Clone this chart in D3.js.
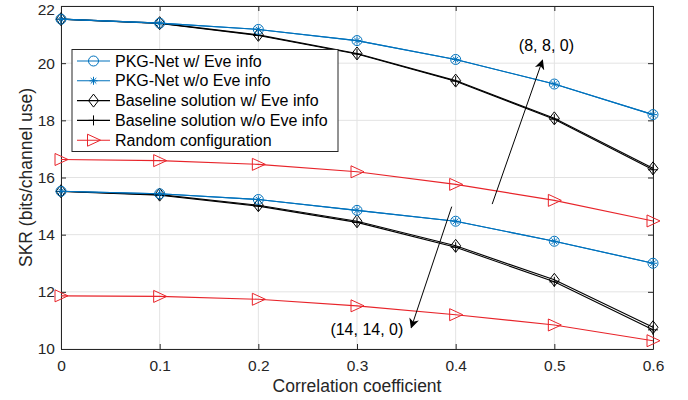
<!DOCTYPE html>
<html><head><meta charset="utf-8">
<script src="https://cdn.jsdelivr.net/npm/d3@7"></script>
<style>body{margin:0;background:#fff}svg{display:block}text{font-family:"Liberation Sans",Arial,Helvetica,sans-serif}</style>
</head><body><svg id="c" width="688" height="400"></svg>
<script>
const xVals = [0, 0.1, 0.2, 0.3, 0.4, 0.5, 0.6];
const xTicks = [0, 0.1, 0.2, 0.3, 0.4, 0.5, 0.6];
const yTicks = [10, 12, 14, 16, 18, 20, 22];
// (8,8,0) group
const pkgWith8 = [21.54, 21.40, 21.18, 20.79, 20.13, 19.27, 18.20];
const pkgWithout8 = [21.54, 21.40, 21.18, 20.79, 20.13, 19.27, 18.20];
const baseWith8 = [21.54, 21.40, 20.99, 20.34, 19.39, 18.07, 16.32];
const baseWithout8 = [21.54, 21.39, 20.97, 20.32, 19.37, 18.04, 16.27];
const rand8 = [16.63, 16.59, 16.46, 16.20, 15.76, 15.20, 14.48];
// (14,14,0) group
const pkgWith14 = [15.52, 15.43, 15.23, 14.85, 14.47, 13.77, 13.00];
const pkgWithout14 = [15.52, 15.43, 15.23, 14.85, 14.47, 13.77, 13.00];
const baseWith14 = [15.52, 15.40, 15.03, 14.47, 13.61, 12.42, 10.76];
const baseWithout14 = [15.51, 15.38, 15.00, 14.43, 13.56, 12.35, 10.67];
const rand14 = [11.86, 11.84, 11.74, 11.51, 11.20, 10.84, 10.29];
const legendLabels = ["PKG-Net w/ Eve info", "PKG-Net w/o Eve info", "Baseline solution w/ Eve info", "Baseline solution w/o Eve info", "Random configuration"];
const annotations = ["(8, 8, 0)", "(14, 14, 0)"];

const BLUE = "#0072BD", RED = "#e8242a", BLACK = "#000";
const svg = d3.select("#c");
const L = 61, R = 653, T = 6, B = 349;
const x = d3.scaleLinear().domain([0, 0.6]).range([L, R]);
const y = d3.scaleLinear().domain([10, 22]).range([B, T]);

// grid
const g = svg.append("g");
g.selectAll(".gx").data(xTicks).enter().append("line")
  .attr("x1", d => x(d)).attr("x2", d => x(d)).attr("y1", T).attr("y2", B)
  .attr("stroke", "#e3e3e3").attr("stroke-width", 1);
g.selectAll(".gy").data(yTicks).enter().append("line")
  .attr("y1", d => y(d)).attr("y2", d => y(d)).attr("x1", L).attr("x2", R)
  .attr("stroke", "#e3e3e3").attr("stroke-width", 1);

// axes
const axB = d3.axisBottom(x).tickValues(xTicks).tickSizeInner(-5).tickSizeOuter(0).tickPadding(11).tickFormat(d => d === 0 ? "0" : d3.format(".1f")(d));
const axL = d3.axisLeft(y).tickValues(yTicks).tickSizeInner(-5).tickSizeOuter(0).tickPadding(6);
const axT = d3.axisTop(x).tickValues(xTicks).tickSizeInner(-5).tickSizeOuter(0).tickFormat("");
const axR = d3.axisRight(y).tickValues(yTicks).tickSizeInner(-5).tickSizeOuter(0).tickFormat("");
function style(sel){ sel.attr("font-size", null).attr("font-family", null); sel.selectAll("path,line").attr("stroke", "#262626"); sel.selectAll("text").attr("fill", "#262626").style("font-size", "15.5px"); }
svg.append("g").attr("transform", `translate(0,${B})`).call(axB).call(style);
const gl = svg.append("g").attr("transform", `translate(${L},0)`).call(axL).call(style);
gl.selectAll(".tick text").filter(d => d === 22).attr("dy", "0.52em");
svg.append("g").attr("transform", `translate(0,${T})`).call(axT).call(style);
svg.append("g").attr("transform", `translate(${R},0)`).call(axR).call(style);

svg.append("text").attr("x", (L + R) / 2).attr("y", 392).attr("text-anchor", "middle")
  .style("font-size", "17.5px").attr("fill", "#262626").text("Correlation coefficient");
svg.append("text").attr("transform", `translate(32,${(T + B) / 2}) rotate(-90)`).attr("text-anchor", "middle")
  .style("font-size", "17.5px").attr("fill", "#262626").text("SKR (bits/channel use)");

const line = d3.line().x((d, i) => x(xVals[i])).y(d => y(d));

function marker(sel, type, color) {
  if (type === "circle") {
    sel.append("circle").attr("r", 5).attr("fill", "none").attr("stroke", color).attr("stroke-width", 1);
  } else if (type === "star") {
    const r = 4;
    sel.append("path").attr("d", `M${-r},0H${r}M0,${-r}V${r}M${-r*0.7},${-r*0.7}L${r*0.7},${r*0.7}M${-r*0.7},${r*0.7}L${r*0.7},${-r*0.7}`)
      .attr("stroke", color).attr("stroke-width", 1).attr("fill", "none");
  } else if (type === "diamond") {
    sel.append("path").attr("d", "M0,-6.5L5,0L0,6.5L-5,0Z").attr("fill", "none").attr("stroke", color).attr("stroke-width", 1);
  } else if (type === "plus") {
    sel.append("path").attr("d", "M-5,0H5M0,-5V5").attr("stroke", color).attr("stroke-width", 1);
  } else if (type === "tri") {
    sel.append("path").attr("d", "M-6,-6L7,0L-6,6Z").attr("fill", "none").attr("stroke", color).attr("stroke-width", 1);
  }
}

const series = [
  {data: rand8, color: RED, m: "tri"},
  {data: rand14, color: RED, m: "tri"},
  {data: baseWithout8, color: BLACK, m: "plus"},
  {data: baseWith8, color: BLACK, m: "diamond"},
  {data: baseWithout14, color: BLACK, m: "plus"},
  {data: baseWith14, color: BLACK, m: "diamond"},
  {data: pkgWith8, color: BLUE, m: "circle"},
  {data: pkgWithout8, color: BLUE, m: "star"},
  {data: pkgWith14, color: BLUE, m: "circle"},
  {data: pkgWithout14, color: BLUE, m: "star"}
];
series.forEach(s => {
  svg.append("path").datum(s.data).attr("d", line).attr("fill", "none").attr("stroke", s.color).attr("stroke-width", 1.1);
  s.data.forEach((v, i) => {
    const mg = svg.append("g").attr("transform", `translate(${x(xVals[i])},${y(v)})`);
    marker(mg, s.m, s.color);
  });
});

// annotations with arrows
svg.append("defs").append("marker").attr("id", "ah").attr("viewBox", "0 0 10 10").attr("refX", 9).attr("refY", 5)
  .attr("markerWidth", 10).attr("markerHeight", 10).attr("markerUnits", "userSpaceOnUse").attr("orient", "auto")
  .append("path").attr("d", "M0,0L10,5L0,10L3,5Z").attr("fill", "#000");
svg.append("line").attr("x1", x(0.437)).attr("y1", y(15.07)).attr("x2", x(0.488)).attr("y2", y(20.1))
  .attr("stroke", "#000").attr("stroke-width", 1).attr("marker-end", "url(#ah)");
svg.append("line").attr("x1", x(0.396)).attr("y1", y(14.98)).attr("x2", x(0.355)).attr("y2", y(10.75))
  .attr("stroke", "#000").attr("stroke-width", 1).attr("marker-end", "url(#ah)");
svg.append("text").attr("x", x(0.492)).attr("y", y(20.42)).attr("text-anchor", "middle").style("font-size", "16px").attr("fill", "#000").text(annotations[0]);
svg.append("text").attr("x", x(0.31)).attr("y", y(10.5)).attr("text-anchor", "middle").style("font-size", "16px").attr("fill", "#000").text(annotations[1]);

// legend
const lg = svg.append("g");
lg.append("rect").attr("x", 72).attr("y", 49.5).attr("width", 266).attr("height", 102).attr("fill", "#fff").attr("stroke", "#262626").attr("stroke-width", 1);
const legendStyle = [
  {c: BLUE, m: ["circle"]},
  {c: BLUE, m: ["star"]},
  {c: BLACK, m: ["diamond"]},
  {c: BLACK, m: ["plus"]},
  {c: RED, m: ["tri"]}
];
legendLabels.forEach((t, i) => {
  const yy = 61 + i * 19.8;
  lg.append("line").attr("x1", 77).attr("x2", 110).attr("y1", yy).attr("y2", yy).attr("stroke", legendStyle[i].c).attr("stroke-width", 1.1);
  const mg = lg.append("g").attr("transform", `translate(93.5,${yy})`);
  legendStyle[i].m.forEach(m => marker(mg, m, legendStyle[i].c));
  lg.append("text").attr("x", 115).attr("y", yy + 5.5).style("font-size", "16px").attr("fill", "#000").text(t);
});
</script></body></html>
